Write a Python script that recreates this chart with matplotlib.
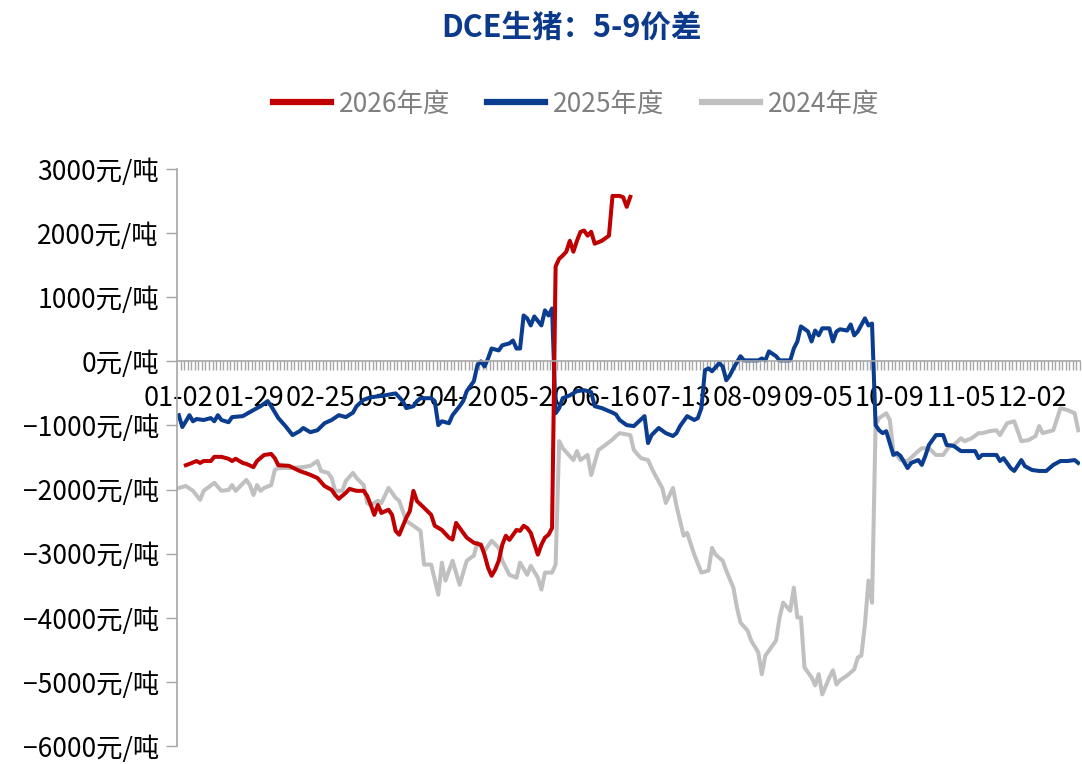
import numpy as np
import matplotlib.pyplot as plt
from matplotlib.lines import Line2D

plt.rcParams['font.family'] = ['Noto Sans CJK SC', 'DejaVu Sans']

# category axis: trading days of the season, label every 20 days
N_DAYS = 254
TICK_STEP = 20
tick_labels = ["01-02", "01-29", "02-25", "03-23", "04-20", "05-20", "06-16",
               "07-13", "08-09", "09-05", "10-09", "11-05", "12-02"]

# 2026年度 (day index, 元/吨)
day_2026 = [2, 3, 5, 6, 7, 9, 10, 12, 14, 15, 16, 18, 19, 21, 22, 24, 26, 27, 28, 31,
            34, 37, 39, 41, 43, 44, 45, 47, 48, 50, 52, 53, 54, 55, 56, 57, 59, 60, 61, 62,
            64, 65, 66, 67, 69, 71, 72, 74, 76, 77, 78, 80, 81, 83, 85, 86, 87, 88, 89, 90,
            91, 92, 93, 95, 96, 97, 98, 99, 101, 102, 103, 104, 105, 106, 107, 108, 109, 110,
            111, 112, 113, 114, 115, 116, 117, 119, 121, 122, 124, 125, 126, 127]
val_2026 = [-1620, -1600, -1555, -1585, -1555, -1555, -1490, -1490, -1520, -1555, -1520, -1585,
            -1600, -1650, -1555, -1460, -1445, -1510, -1620, -1630, -1710, -1770, -1820, -1945,
            -2005, -2085, -2145, -2050, -1990, -2020, -2020, -2100, -2240, -2395, -2240, -2365,
            -2315, -2395, -2645, -2705, -2440, -2335, -2020, -2180, -2285, -2395, -2565, -2630,
            -2750, -2780, -2520, -2675, -2750, -2830, -2860, -3015, -3220, -3345, -3250, -3110,
            -2860, -2720, -2785, -2630, -2645, -2565, -2600, -2675, -3015, -2860, -2750, -2705,
            -2600, 1480, 1600, 1650, 1710, 1880, 1710, 1880, 2020, 2040, 1960, 2020, 1835, 1880,
            1960, 2580, 2580, 2560, 2410, 2565]

# 2025年度
day_2025 = [0, 1, 2, 3, 4, 5, 7, 9, 10, 11, 12, 14, 15, 18, 21, 23, 25, 26, 28, 30, 32, 34,
            35, 37, 39, 41, 43, 45, 47, 49, 50, 52, 54, 57, 59, 61, 63, 64, 66, 67, 68, 71, 72,
            73, 74, 76, 77, 79, 80, 81, 83, 84, 85, 86, 87, 88, 90, 91, 93, 94, 95, 96, 97, 98,
            99, 100, 102, 103, 104, 105, 106, 107, 108, 110, 112, 114, 116, 117, 119, 122, 123,
            124, 126, 128, 131, 132, 133, 135, 137, 139, 140, 141, 143, 145, 146, 147, 148, 149,
            150, 152, 153, 154, 155, 156, 158, 159, 161, 163, 164, 165, 166, 168, 169, 172, 173,
            174, 175, 177, 178, 179, 180, 181, 183, 184, 185, 186, 188, 189, 190, 191, 193, 194,
            195, 196, 197, 198, 199, 200, 201, 202, 203, 205, 206, 208, 209, 210, 211, 213, 215,
            216, 218, 220, 222, 224, 225, 226, 228, 230, 231, 232, 234, 235, 237, 238, 240, 242,
            244, 246, 248, 250, 252, 253]
val_2025 = [-840, -1025, -935, -840, -935, -900, -915, -885, -935, -840, -915, -950, -870,
            -855, -760, -700, -620, -700, -885, -1010, -1150, -1090, -1040, -1105, -1075, -965,
            -915, -840, -870, -800, -700, -600, -560, -540, -520, -500, -620, -730, -700, -620,
            -575, -575, -620, -995, -935, -965, -840, -700, -620, -465, -310, -60, 0, -80, 45,
            200, 170, 250, 280, 325, 200, 200, 715, 670, 560, 700, 560, 795, 715, 825, -810,
            -730, -575, -530, -465, -450, -480, -700, -730, -800, -830, -915, -995, -1010, -855,
            -1275, -1150, -1040, -1120, -1165, -1120, -1010, -855, -915, -885, -730, -140, -110,
            -155, -30, -80, -295, -220, -110, 80, 15, 15, 15, 45, 15, 155, 80, 15, 15, 200, 310,
            545, 465, 310, 480, 405, 515, 515, 310, 465, 500, 480, 575, 405, 465, 670, 560, 590,
            -995, -1075, -1120, -1090, -1275, -1460, -1430, -1475, -1665, -1585, -1540, -1615,
            -1475, -1305, -1150, -1150, -1305, -1320, -1400, -1400, -1400, -1510, -1460, -1460,
            -1460, -1555, -1510, -1665, -1710, -1540, -1635, -1695, -1710, -1710, -1615, -1555,
            -1555, -1540, -1585]

# 2024年度
day_2024 = [0, 2, 4, 6, 7, 10, 12, 14, 15, 16, 19, 20, 21, 22, 23, 24, 26, 27, 28, 31, 35,
            37, 39, 40, 42, 43, 44, 46, 47, 49, 50, 52, 53, 54, 56, 57, 59, 60, 61, 62, 64, 66,
            68, 69, 71, 73, 74, 75, 77, 79, 81, 83, 84, 86, 88, 90, 91, 93, 95, 96, 98, 99, 101,
            102, 103, 105, 106, 107, 108, 111, 112, 113, 115, 116, 118, 120, 122, 123, 124, 127,
            128, 130, 132, 133, 134, 136, 137, 139, 140, 142, 143, 145, 147, 149, 150, 151, 153,
            154, 156, 157, 158, 160, 161, 163, 164, 165, 168, 169, 170, 172, 173, 174, 175, 176,
            178, 179, 180, 181, 183, 184, 185, 186, 188, 190, 191, 192, 193, 194, 195, 196, 197,
            199, 200, 201, 203, 205, 208, 209, 211, 213, 215, 217, 218, 220, 221, 223, 225, 226,
            228, 230, 231, 233, 235, 237, 239, 241, 242, 243, 246, 248, 250, 252, 253]
val_2024 = [-1975, -1945, -2020, -2160, -2020, -1895, -2020, -2005, -1930, -2020, -1850, -1930,
            -2085, -1930, -2020, -1975, -1930, -1695, -1665, -1665, -1650, -1630, -1555, -1710,
            -1740, -1820, -2020, -2020, -1865, -1740, -1820, -1930, -2210, -2240, -2175, -2210,
            -1975, -2050, -2130, -2175, -2490, -2565, -2645, -3170, -3170, -3640, -3140, -3420,
            -3110, -3485, -3110, -3030, -2830, -2955, -2800, -2910, -3110, -3330, -3375, -3140,
            -3330, -3190, -3375, -3560, -3295, -3295, -3170, -1245, -1355, -1540, -1400, -1540,
            -1460, -1775, -1385, -1305, -1220, -1165, -1120, -1150, -1385, -1510, -1540, -1665,
            -1775, -1975, -2210, -1975, -2255, -2720, -2675, -3015, -3295, -3265, -2910, -3015,
            -3110, -3265, -3530, -3840, -4075, -4200, -4355, -4540, -4880, -4590, -4355, -3995,
            -3765, -3890, -3530, -3995, -3995, -4775, -4930, -5055, -4880, -5195, -4930, -4820,
            -5040, -4975, -4900, -4805, -4620, -4590, -4105, -3420, -3765, -995, -885, -810,
            -915, -1400, -1540, -1555, -1400, -1355, -1355, -1460, -1460, -1305, -1305, -1200,
            -1245, -1200, -1120, -1120, -1090, -1075, -1150, -965, -935, -1245, -1230, -1165,
            -1010, -1120, -1075, -730, -760, -810, -1075]

c_2026 = "#C00000"
c_2025 = "#0A3D8F"
c_2024 = "#C0C0C0"
axis_c = "#A6A6A6"

fig = plt.figure(figsize=(10.82, 7.64), dpi=100)
ax = fig.add_axes([177 / 1082, 1 - 746 / 764, 903 / 1082, 577 / 764])

ax.plot(day_2024, val_2024, color=c_2024, lw=2.9)
ax.plot(day_2025, val_2025, color=c_2025, lw=2.9)
ax.plot(day_2026, val_2026, color=c_2026, lw=2.9)

ax.set_xlim(-0.5, N_DAYS - 0.5)
ax.set_ylim(-6000, 3000)

yt = np.arange(-6000, 3001, 1000)
ax.set_yticks(yt)
ax.set_yticklabels([f"{v}元/吨".replace("-", "\u2212") for v in yt])

ax.set_xticks(np.arange(0, N_DAYS, TICK_STEP)[:len(tick_labels)])
ax.set_xticklabels(tick_labels)
ax.set_xticks(np.arange(N_DAYS) + 0.5, minor=True)

for s in ["top", "right"]:
    ax.spines[s].set_visible(False)
ax.spines["bottom"].set_position(("data", 0))
ax.spines["bottom"].set_color(axis_c)
ax.spines["left"].set_color(axis_c)
ax.spines["bottom"].set_linewidth(1.2)
ax.spines["left"].set_linewidth(1.2)

ax.tick_params(axis="x", which="both", direction="out", length=6.5, width=1,
               color=axis_c, pad=17, labelcolor="black", labelsize=19.5)
ax.tick_params(axis="x", which="major", length=0)
ax.tick_params(axis="y", length=8, width=1, color=axis_c, pad=5,
               labelcolor="black", labelsize=19)

fig.text(571 / 1082, 1 - 28 / 764, "DCE生猪：5-9价差", ha="center", va="center",
         fontsize=22, fontweight="bold", color="#0B3A8A")

handles = [Line2D([], [], color=c, lw=4.5) for c in (c_2026, c_2025, c_2024)]
leg = fig.legend(handles, ["2026年度", "2025年度", "2024年度"], loc="center",
                 bbox_to_anchor=(576 / 1082, 1 - 104 / 764), ncol=3, frameon=False,
                 fontsize=19, handlelength=2.2, handletextpad=0.3, columnspacing=1.4)
for t in leg.get_texts():
    t.set_color("#7F7F7F")

fig.savefig("out.png", dpi=100)
